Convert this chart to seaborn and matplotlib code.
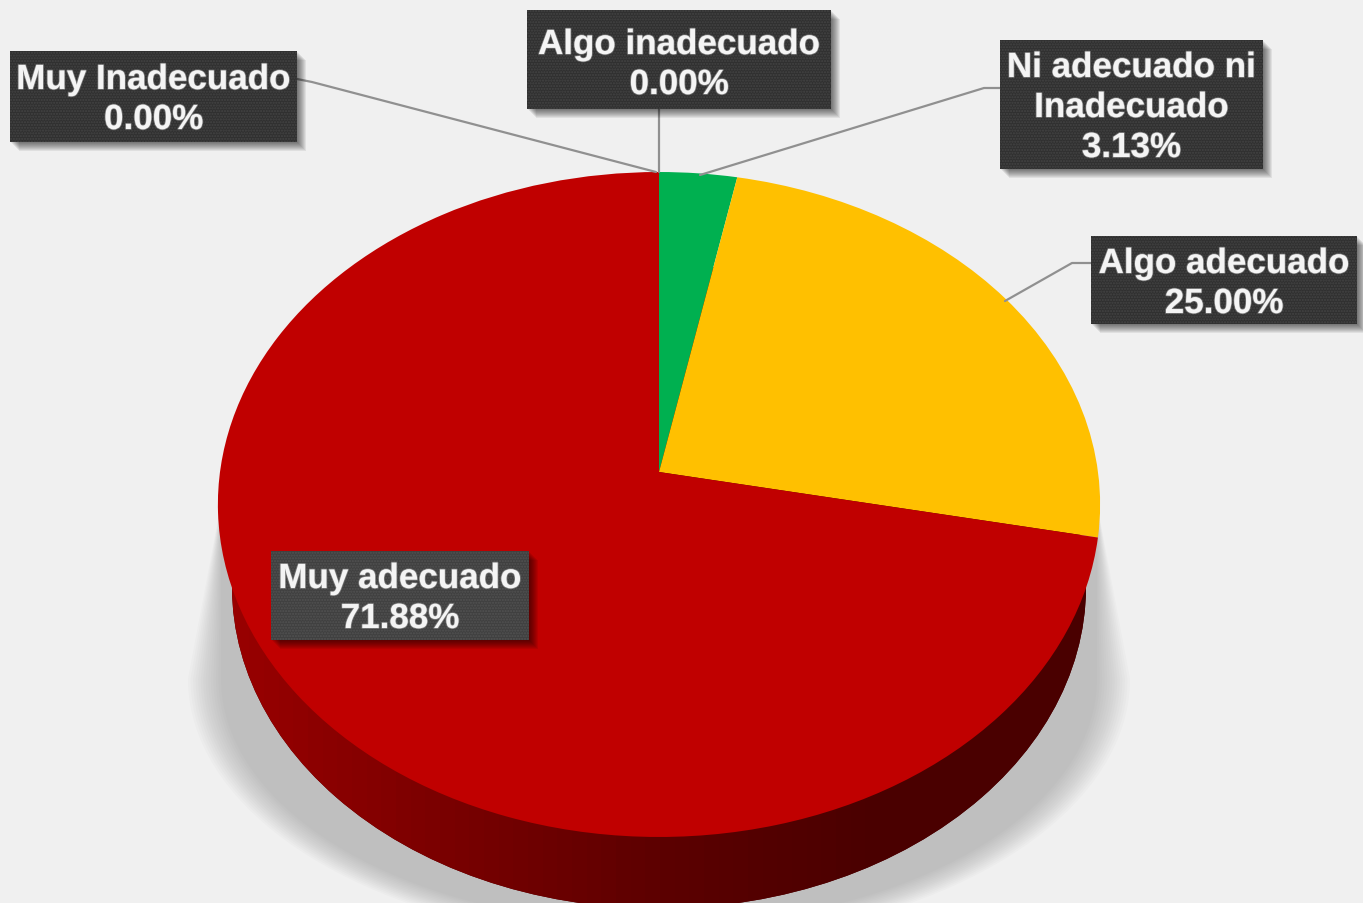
import matplotlib.pyplot as plt
import numpy as np
import seaborn as sns
from matplotlib.patches import Circle, Polygon, Rectangle
from matplotlib.transforms import Transform
import matplotlib.patheffects as pe

# datos del grafico
categorias = ["Algo inadecuado", "Muy Inadecuado", "Ni adecuado ni\nInadecuado", "Algo adecuado", "Muy adecuado"]
valores = [0.00, 0.00, 3.13, 25.00, 71.88]
colores = ["#7f7f7f", "#404040", "#00b050", "#ffc000", "#c00000"]

# cajas de etiqueta: x0, y0, x1, y1
cajas = [(527, 11, 831, 110), (10, 52, 297, 143), (1000, 41, 1263, 170), (1091, 237, 1357, 325), (271, 552, 529, 641)]
ajuste_y = [5, 3, 3, 3.5, 3]
lineas = [
    [(659, 110), (659, 173)],
    [(297, 80), (312, 83), (656, 173)],
    [(1000, 89), (984, 89), (700, 176)],
    [(1091, 264), (1072, 264), (1005, 302)],
    None,
]

FONDO = "#f0f0f0"


class Perspectiva(Transform):
    # circulo unidad -> disco visto en perspectiva (en pixeles)
    input_dims = 2
    output_dims = 2

    def __init__(self, cx=659.0, cy=473.0, a=439.0, b=329.3, k=0.0977):
        super().__init__()
        self.p = (cx, cy, a, b, k)

    def transform_non_affine(self, xy):
        xy = np.asarray(xy, float)
        cx, cy, a, b, k = self.p
        d = 1 + k * xy[:, 1]
        return np.column_stack([cx + a * xy[:, 0] / d, cy - b * xy[:, 1] / d])


sns.set_theme(style="white")
plt.rcParams["font.family"] = ["Liberation Sans", "DejaVu Sans"]

fig, ax = plt.subplots(figsize=(13.63, 9.04), dpi=100, facecolor=FONDO)
fig.subplots_adjust(0, 0, 1, 1)

# pie normal, luego se pasa a perspectiva
wedges, _ = ax.pie(valores, colors=colores, startangle=90, counterclock=False)
for w in wedges:
    w.set_transform(Perspectiva() + ax.transData)
    w.set_zorder(5)
    w.set_linewidth(0)

# sombra difusa
t = np.linspace(0, np.pi, 80)
n_sombra = 14
for esc in np.linspace(1.0, 0.93, n_sombra):
    px = 659 + 471 * esc * np.cos(t)
    py = 680 + 265 * esc * np.sin(t)
    arriba = [(659 - 438, 505), (659 + 438, 505)]
    ax.add_patch(Polygon(np.vstack([np.column_stack([px, py]), arriba]), closed=True,
                         fc="#808080", ec="none", alpha=0.035, zorder=1))

# lateral oscuro con degradado
tr_base = Perspectiva(cy=556.0, a=425.0, b=319.0) + ax.transData
base = Circle((0, 0), 1.0, transform=tr_base, fc="#4a0000", ec="none", zorder=2)
ax.add_patch(base)
cmap = sns.blend_palette(["#9a0000", "#7a0000", "#5c0000", "#4a0000", "#4a0000"], as_cmap=True)
grad = ax.imshow(np.linspace(0, 1, 60)[None, :], extent=(220, 1100, 904, 480), aspect="auto",
                 cmap=cmap, zorder=3, interpolation="nearest")
grad.set_clip_path(base)

# lineas guia
for ln in lineas:
    if ln is not None:
        xs, ys = zip(*ln)
        ax.plot(xs, ys, color="#909090", lw=1.6, zorder=6, solid_joinstyle="round")

# etiquetas
for nom, val, (x0, y0, x1, y1), dy in zip(categorias, valores, cajas, ajuste_y):
    for d in range(1, 10):
        ax.add_patch(Rectangle((x0 + d, y0 + d), x1 - x0, y1 - y0, fc="black", ec="none", alpha=0.07, zorder=7))
    claro = nom == "Muy adecuado"
    ax.add_patch(Rectangle((x0, y0), x1 - x0, y1 - y0, fc="#404040" if claro else "#303030", ec="none", zorder=8))
    ax.add_patch(Rectangle((x0, y0), x1 - x0, y1 - y0, fc="none", ec="#525252" if claro else "#444444", lw=0,
                           hatch="......", zorder=8))
    ax.text((x0 + x1) / 2, (y0 + y1) / 2 + dy, f"{nom}\n{val:.2f}%", ha="center", va="center",
            color="#f4f4f4", fontsize=25.2, fontweight="bold", linespacing=1.27, zorder=9,
            path_effects=[pe.withStroke(linewidth=1.2, foreground="#9a9a9a", alpha=0.6)])

ax.set_aspect("auto")
ax.set_xlim(0, 1363)
ax.set_ylim(904, 0)
ax.axis("off")
fig.savefig("out.png", dpi=100, facecolor=FONDO)
